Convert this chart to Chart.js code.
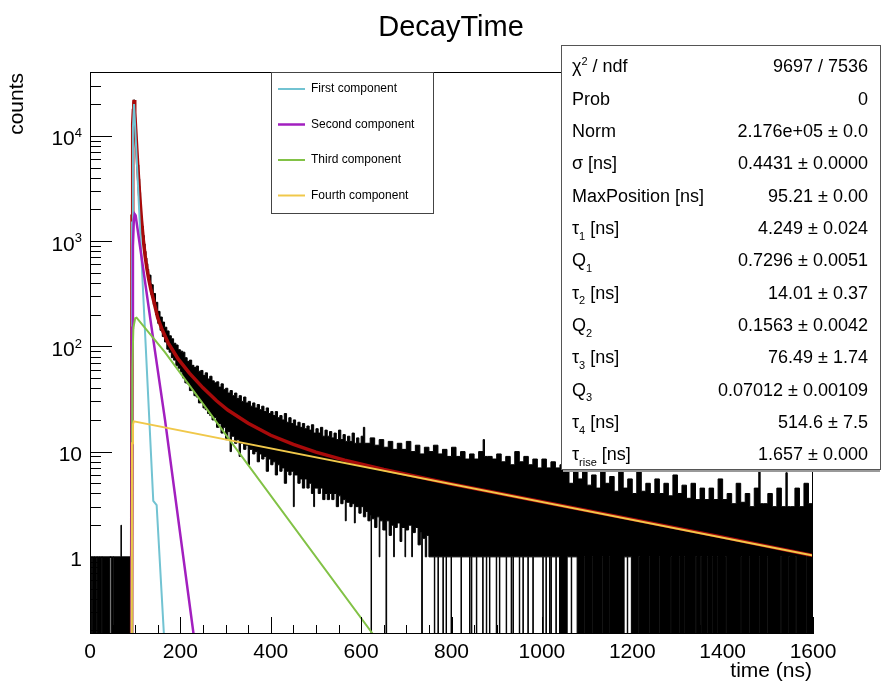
<!DOCTYPE html>
<html>
<head>
<meta charset="utf-8">
<title>DecayTime</title>
<script src="https://cdn.jsdelivr.net/npm/chart.js@4.4.1/dist/chart.umd.min.js"></script>
<style>
  html, body { margin: 0; padding: 0; background: #fff; }
  canvas { display: block; }
</style>
</head>
<body>
<canvas id="decay" width="881" height="683"></canvas>
<script>
"use strict";

// histogram envelope, [time ns, counts]; 0.1 = empty bin (below the axis floor)
const histTop = [
  [0,1],[68,1],[68.5,2],[69.5,1],[92.5,40],[93,1900],[94,6000],[95,14000],[96,18500],[97,22000],
  [98,21200],[99,17800],[100,14900],[101,12500],[102,10500],[103,8800],[104,7400],[105,6250],[106,5300],
  [108,3900],[110,2900],[112,2200],[114,1720],[116,1380],[118,1130],[120,940],[122,800],[124,690],
  [126,610],[128,540],[130,475],[135,385],[140,318],[145,262],[150,215],[155,190],[160,170],[165,152],
  [170,140],[175,126],[180,118],[185,107],[190,103],[195,93],[200,90],[205,88],[210,78],[215,72],
  [220,74],[225,66],[230,63],[235,65],[240,58],[245,59],[250,53],[255,56],[260,49],[265,52],[270,47],
  [275,45],[280,46],[285,41],[290,44],[295,39],[300,40],[305,36],[310,38],[315,34],[320,36],[325,32],
  [330,34],[335,30],[340,33],[345,29],[350,30],[355,27],[360,29],[365,26],[370,28],[375,25],[380,27],
  [385,24],[390,26],[395,23],[400,24],[405,22],[410,24],[415,21],[420,22],[425,20],[430,23],[435,19],
  [440,21],[445,18.5],[450,20],[455,17.5],[460,19],[465,17],[470,18.5],[475,16.5],[480,17.5],[485,16],
  [490,18],[495,15],[500,16.5],[505,15],[510,17],[515,14],[520,16],[525,14],[530,15.5],[535,13.5],
  [540,15],[545,13],[550,16],[555,13],[560,14.5],[565,12.5],[570,14],[575,12.5],[580,15],[585,12],
  [590,13.5],[595,12],[600,14],[605,17],[608,12],[620,13.5],[630,11.5],[640,13],[650,11],[660,12.5],
  [670,10.5],[680,12],[690,10.5],[700,12.5],[710,10],[720,11.5],[730,9.5],[740,11],[750,10],[760,11.5],
  [770,9.5],[780,10.5],[790,9],[800,11],[810,9],[820,10],[830,8.5],[840,9.5],[850,8.5],[860,10],
  [870,13],[873,9],[880,9],[890,8.5],[900,9.5],[910,8],[920,9],[930,7.5],[940,10],[950,8],[960,9],
  [970,7.5],[980,8.5],[990,7],[1000,8.5],[1010,7],[1020,8],[1030,7],[1040,7.5],[1050,6.5],[1060,5],
  [1070,7],[1080,5.5],[1090,6.8],[1100,4.8],[1110,6],[1120,4.5],[1130,7],[1140,5],[1150,5.8],[1160,4.2],
  [1170,6.5],[1180,4.5],[1190,5.5],[1200,4],[1210,6.8],[1220,4.2],[1230,5],[1240,4],[1250,5.5],[1260,4],
  [1270,5],[1280,3.8],[1290,6],[1300,4],[1310,4.8],[1320,3.6],[1330,5],[1340,3.5],[1350,4.5],[1360,3.5],
  [1370,4.5],[1380,3.5],[1390,5.5],[1400,3.5],[1410,4],[1420,3.2],[1430,5],[1440,3.3],[1450,4],[1460,3],
  [1470,4.5],[1480,6.5],[1483,3.2],[1490,3.2],[1500,4],[1510,3],[1520,4.5],[1530,3],[1540,6.3],[1543,3],
  [1550,3],[1560,4.5],[1570,3],[1580,5],[1590,3.2],[1600,3.2]
];

const histBottom = [
  [0,0.1],[4,1],[5,0.1],[9,1],[10,0.1],[15,1],[16.5,0.1],[21,1],[22,0.1],[26,1],[27.5,0.1],[44,1],
  [47,0.1],[51,1],[52.5,0.1],[92.5,20],[93,1500],[94,5000],[95,12000],[96,16300],[97,19600],[98,18800],
  [99,15600],[100,13100],[101,10900],[102,9100],[103,7600],[104,6400],[105,5400],[106,4560],[108,3330],
  [110,2450],[112,1860],[114,1440],[116,1140],[118,930],[120,765],[122,650],[124,560],[126,490],[128,430],
  [130,398],[135,308],[140,250],[145,200],[150,165],[155,142],[160,124],[165,110],[170,94],[175,88],
  [180,78],[185,74],[190,66],[195,62],[200,57],[205,50],[210,45],[215,44],[220,38],[225,39],[230,34],
  [235,33],[240,29],[245,30],[250,26],[255,25],[260,23],[265,22],[270,20],[275,21],[280,17],[285,18.5],
  [290,15],[295,17],[300,13],[305,15.5],[310,10],[313,14],[320,12],[325,13],[330,9],[333,12],[340,10.5],
  [345,11.5],[350,7.5],[353,10.5],[360,9.5],[365,10],[370,8],[375,9.5],[380,8.5],[385,9],[390,6.5],
  [395,8.5],[400,7.5],[405,8],[410,6],[415,7.5],[420,6.5],[425,7],[430,5],[435,6.5],[440,6],[445,6.5],
  [450,3],[452,6],[460,5],[465,5.5],[470,4.5],[475,5.5],[480,4.5],[485,5],[490,4],[495,3],[497,4.5],
  [505,4],[510,4.5],[515,3.5],[520,4],[525,3.5],[530,4],[535,3.5],[540,4],[545,3],[550,3.8],[555,3.2],
  [560,3.5],[565,2.2],[567,3.3],[575,3],[580,3.2],[585,2.1],[587,3],[595,2.6],[600,3],[605,2.4],
  [610,2.7],[615,2.2],[620,2.5],[622,0.1],[623,2.3],[630,1.9],[635,2.4],[640,1],[641.5,2.2],[648,1.8],
  [655,0.1],[656.5,2.2],[662,1.6],[667,2],[672,1],[673.5,1.9],[680,2.1],[686,1.4],[690,1.9],[697,1],
  [698.5,1.8],[705,2],[712,1],[713.5,1.7],[720,1.9],[726,1.3],[731,1.7],[734,0.1],[735.5,1.5],[742,1],
  [745,1.6],[750,1],[762,0.1],[763,1],[770,0.1],[771,1],[781,0.1],[782,1],[788,0.1],[789,1],[799,0.1],
  [800,1],[821,0.1],[822,1],[840,0.1],[841,1],[844,0.1],[845,1],[855,0.1],[856,1],[869,0.1],[870,1],
  [877,0.1],[878,1],[884,0.1],[885,1],[899,0.1],[900,1],[906,0.1],[907,1],[921,0.1],[922,1],[932,0.1],
  [933,1],[936,0.1],[937,1],[950,0.1],[951,1],[958,0.1],[959,1],[969,0.1],[970,1],[980,0.1],[981,1],
  [1002,0.1],[1003,1],[1009,0.1],[1010,1],[1017,0.1],[1018,1],[1020,0.1],[1021,1],[1031,0.1],[1032,1],
  [1039,0.1],[1056,1],[1065,0.1],[1066,1],[1078,0.1],[1093.5,1],[1095,0.1],[1111.5,1],[1113,0.1],
  [1133.5,1],[1135,0.1],[1148.5,1],[1150,0.1],[1182,1],[1189,0.1],[1190,1],[1198,0.1],[1214.5,1],
  [1216,0.1],[1237.5,1],[1239,0.1],[1259.5,1],[1261,0.1],[1285.5,1],[1287,0.1],[1303.5,1],[1305,0.1],
  [1314.5,1],[1316,0.1],[1340.5,1],[1342,0.1],[1351.5,1],[1353,0.1],[1365.5,1],[1367,0.1],[1376.5,1],
  [1378,0.1],[1387.5,1],[1389,0.1],[1406.5,1],[1408,0.1],[1440.5,1],[1442,0.1],[1458.5,1],[1460,0.1],
  [1480.5,1],[1482,0.1],[1498.5,1],[1500,0.1],[1528.5,1],[1530,0.1],[1546.5,1],[1548,0.1],[1561.5,1],
  [1563,0.1],[1584.5,1],[1586,0.1],[1600,0.1]
];

// fit curves, [time ns, counts]
const fitTotal = [
  [92,0.05],[93,1720],[94,5500],[95,13000],[96,17400],[97,20800],[97.5,21900],[99,16700],[101,11700],
  [103,8200],[106,4930],[110,2670],[114,1580],[118,1024],[122,722],[126,546],[130,434],[135,343],
  [140,282],[150,186],[160,143],[173,108],[195,76],[220,55.7],[250,40.3],[280,30.4],[305,24.8],
  [350,18.6],[400,14.3],[450,11.7],[500,9.9],[563.5,8.3],[650,6.75],[800,4.93],[1000,3.34],
  [1200,2.27],[1400,1.54],[1600,1.03]
];
const firstComp = [[92,0.05],[93,1500],[95,12000],[97.5,20000],[121.5,145],[140,3.4],[147.5,3.1],[166,0.12]];
const secondComp = [[92,0.05],[93,150],[95,900],[97,1600],[99,1800],[101,1750],[136,153],[166,20],[232,0.15]];
const thirdComp = [[92.5,0.05],[93.5,60],[96,150],[100,185],[103,187],[165.7,88],[626,0.185],[640,0.15]];
const fourthComp = [[92,0.05],[93,12],[95,18],[97,19.4],[1600,1.03]];

const componentNames = ["First component", "Second component", "Third component", "Fourth component"];

const timeRange = [0, 1600];
const countRange = [0.185, 40400];
const yTickValues = [1, 10, 100, 1000, 10000];
const yTickLabels = ["1", "10", "10^{2}", "10^{3}", "10^{4}"];

const statNames = [
  "χ^{2} / ndf", "Prob", "Norm", "σ [ns]", "MaxPosition [ns]", "τ_{1} [ns]", "Q_{1}",
  "τ_{2} [ns]", "Q_{2}", "τ_{3} [ns]", "Q_{3}", "τ_{4} [ns]", "τ_{rise} [ns]"
];
const statValues = [
  "9697 / 7536", "0", "2.176e+05 ± 0.0", "0.4431 ± 0.0000", "95.21 ± 0.00", "4.249 ± 0.024",
  "0.7296 ± 0.0051", "14.01 ± 0.37", "0.1563 ± 0.0042", "76.49 ± 1.74", "0.07012 ± 0.00109",
  "514.6 ± 7.5", "1.657 ± 0.000"
];

const FONT = '"Liberation Sans", Arial, Helvetica, sans-serif';
const compColors = ["#72c3d2", "#a21fbf", "#82c246", "#f0c84a"];
const compWidths = [2, 2.5, 2, 2];

const toXY = (pairs) => pairs.map(([x, y]) => ({ x: x, y: y }));

// text with ^{..} and _{..} like ROOT latex
function richParts(str) {
  const parts = [];
  const re = /([_^])\{([^}]*)\}/g;
  let last = 0, m;
  while ((m = re.exec(str))) {
    if (m.index > last) parts.push({ t: str.slice(last, m.index), k: 0 });
    parts.push({ t: m[2], k: m[1] === "^" ? 1 : -1 });
    last = re.lastIndex;
  }
  if (last < str.length) parts.push({ t: str.slice(last), k: 0 });
  return parts;
}

function drawRich(ctx, str, x, y, size, align) {
  const parts = richParts(str);
  const small = Math.round(size * 0.62);
  let w = 0;
  parts.forEach((p) => {
    ctx.font = (p.k ? small : size) + "px " + FONT;
    p.w = ctx.measureText(p.t).width;
    w += p.w;
  });
  let cx = align === "right" ? x - w : x;
  ctx.textAlign = "left";
  ctx.textBaseline = "alphabetic";
  const base = y + size * 0.36;
  parts.forEach((p) => {
    ctx.font = (p.k ? small : size) + "px " + FONT;
    const dy = p.k === 1 ? -size * 0.4 : p.k === -1 ? size * 0.3 : 0;
    ctx.fillText(p.t, cx, base + dy);
    cx += p.w;
  });
}

const rootStyle = {
  id: "rootStyle",
  afterDatasetsDraw(chart) {
    const { ctx, chartArea: a, scales } = chart;
    const xs = scales.x, ys = scales.y;
    ctx.save();
    ctx.strokeStyle = "#000";
    ctx.lineWidth = 1;
    ctx.strokeRect(a.left + 0.5, a.top + 0.5, a.right - a.left - 1, a.bottom - a.top - 1);
    ctx.beginPath();
    for (let t = xs.min; t <= xs.max; t += 50) {
      const px = Math.round(xs.getPixelForValue(t)) + 0.5;
      const len = t % 200 === 0 ? 17 : 9;
      ctx.moveTo(px, a.bottom);
      ctx.lineTo(px, a.bottom - len);
    }
    const d0 = Math.floor(Math.log10(ys.min)), d1 = Math.ceil(Math.log10(ys.max));
    for (let d = d0; d <= d1; d++) {
      for (let m = 1; m <= 9; m++) {
        const v = m * Math.pow(10, d);
        if (v < ys.min || v > ys.max) continue;
        const py = Math.round(ys.getPixelForValue(v)) + 0.5;
        ctx.moveTo(a.left, py);
        ctx.lineTo(a.left + (m === 1 ? 22 : 11), py);
      }
    }
    ctx.stroke();
    ctx.fillStyle = "#000";
    yTickValues.forEach((v, i) => {
      drawRich(ctx, yTickLabels[i], a.left - 8, ys.getPixelForValue(v) + 2, 21, "right");
    });
    ctx.restore();
  },
  afterDraw(chart) {
    const { ctx, chartArea: a } = chart;
    ctx.save();
    ctx.fillStyle = "#000";
    // title and axis titles
    ctx.font = "29px " + FONT;
    ctx.textAlign = "center";
    ctx.textBaseline = "middle";
    ctx.fillText("DecayTime", 451, 28);
    ctx.font = "21px " + FONT;
    ctx.textAlign = "right";
    ctx.fillText("time (ns)", a.right - 1, 671);
    ctx.save();
    ctx.translate(17, a.top + 1);
    ctx.rotate(-Math.PI / 2);
    ctx.textAlign = "right";
    ctx.fillText("counts", 0, 0);
    ctx.restore();

    // legend box
    const lg = { x: 271, y: a.top, w: 162, h: 141 };
    ctx.fillStyle = "#fff";
    ctx.fillRect(lg.x, lg.y, lg.w, lg.h);
    ctx.strokeStyle = "#444";
    ctx.lineWidth = 1;
    ctx.strokeRect(lg.x + 0.5, lg.y + 0.5, lg.w, lg.h);
    ctx.font = "12px " + FONT;
    ctx.textAlign = "left";
    ctx.textBaseline = "middle";
    componentNames.forEach((name, i) => {
      const yy = lg.y + 17 + i * 35.5;
      ctx.strokeStyle = compColors[i];
      ctx.lineWidth = compWidths[i];
      ctx.beginPath();
      ctx.moveTo(lg.x + 7, yy);
      ctx.lineTo(lg.x + 34, yy);
      ctx.stroke();
      ctx.fillStyle = "#000";
      ctx.fillText(name, lg.x + 40, yy);
    });

    // stats box
    const sb = { x: 561, y: 45, w: 319, h: 424 };
    ctx.fillStyle = "#fff";
    ctx.fillRect(sb.x, sb.y, sb.w, sb.h);
    ctx.strokeStyle = "#555";
    ctx.lineWidth = 1;
    ctx.strokeRect(sb.x + 0.5, sb.y + 0.5, sb.w, sb.h);
    ctx.strokeStyle = "#999";
    ctx.lineWidth = 2;
    ctx.beginPath();
    ctx.moveTo(sb.x + 2, sb.y + sb.h + 2);
    ctx.lineTo(sb.x + sb.w, sb.y + sb.h + 2);
    ctx.stroke();
    ctx.fillStyle = "#000";
    const rowStep = (sb.h - 36) / (statNames.length - 1);
    statNames.forEach((name, i) => {
      const yy = sb.y + 21 + i * rowStep;
      drawRich(ctx, name, sb.x + 11, yy, 18, "left");
      drawRich(ctx, statValues[i], sb.x + sb.w - 12, yy, 18, "right");
    });
    ctx.restore();
  }
};

const lineSet = (label, pairs, color, width, order, extra) => Object.assign({
  label: label,
  data: toXY(pairs),
  borderColor: color,
  borderWidth: width,
  pointRadius: 0,
  fill: false,
  tension: 0,
  order: order,
  clip: 0
}, extra || {});

const datasets = [
  lineSet("data", histTop, "#000", 1, 7, { stepped: true }),
  lineSet("data low", histBottom, "#000", 1, 6, { stepped: true, fill: "-1", backgroundColor: "#000" }),
  lineSet("fit", fitTotal, "#a80a0a", 3.5, 4),
  lineSet(componentNames[0], firstComp, compColors[0], compWidths[0], 3),
  lineSet(componentNames[1], secondComp, compColors[1], compWidths[1], 2),
  lineSet(componentNames[2], thirdComp, compColors[2], compWidths[2], 1),
  lineSet(componentNames[3], fourthComp, compColors[3], compWidths[3], 0)
];

Chart.defaults.font.family = FONT;
Chart.defaults.color = "#000";

new Chart(document.getElementById("decay"), {
  type: "line",
  data: { datasets: datasets },
  plugins: [rootStyle],
  options: {
    responsive: false,
    animation: false,
    events: [],
    layout: { padding: { left: 0, top: 72, right: 68, bottom: 0 } },
    plugins: { legend: { display: false }, tooltip: { enabled: false } },
    scales: {
      x: {
        type: "linear",
        min: timeRange[0],
        max: timeRange[1],
        grid: { display: false, drawTicks: false },
        border: { display: false },
        ticks: {
          stepSize: 200, maxRotation: 0, autoSkip: false, padding: 6,
          font: { size: 21 }, color: "#000",
          callback: (v) => String(v)
        },
        afterFit: (s) => { s.height = 49; }
      },
      y: {
        type: "logarithmic",
        min: countRange[0],
        max: countRange[1],
        grid: { display: false, drawTicks: false },
        border: { display: false },
        ticks: { display: false },
        afterFit: (s) => { s.width = 90; }
      }
    }
  }
});
</script>
</body>
</html>
